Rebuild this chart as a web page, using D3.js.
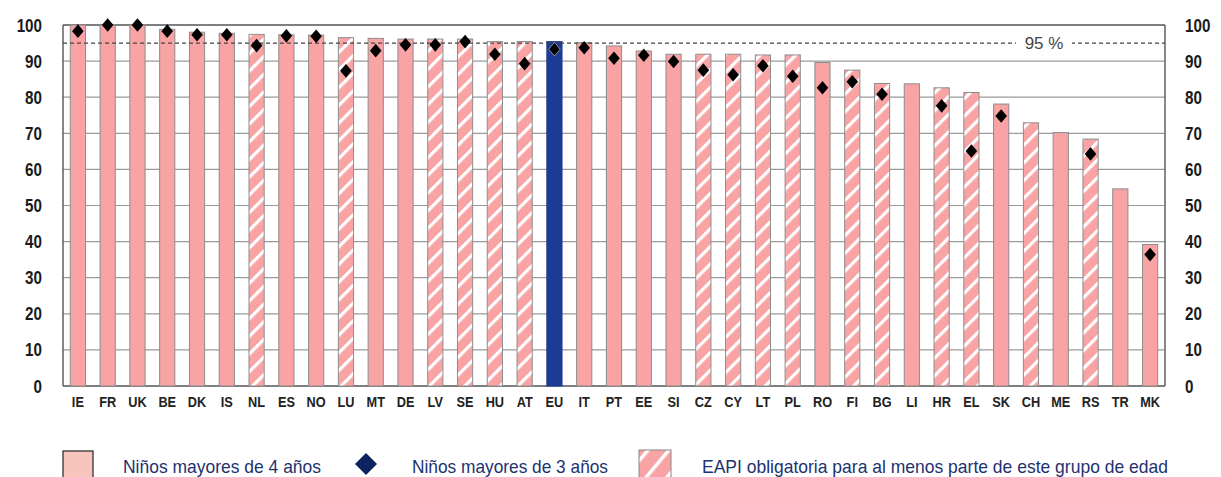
<!DOCTYPE html>
<html><head><meta charset="utf-8">
<script src="https://cdn.jsdelivr.net/npm/d3@7"></script>
<style>
html,body{margin:0;padding:0;background:#fff;}
svg{display:block;}
.nar{font-family:"Liberation Sans Narrow","Arial Narrow","Liberation Sans",Arial,sans-serif;}
</style></head>
<body>
<svg id="chart" width="1221" height="477"></svg>
<script>
const categories = ["IE","FR","UK","BE","DK","IS","NL","ES","NO","LU","MT","DE","LV","SE","HU","AT","EU","IT","PT","EE","SI","CZ","CY","LT","PL","RO","FI","BG","LI","HR","EL","SK","CH","ME","RS","TR","MK"];
const over4 = [100,100,100,98.8,98,97.7,97.4,97.3,97.2,96.5,96.3,96.1,96.1,96.1,95.4,95.4,95.4,95.1,94.2,92.8,91.9,91.9,91.9,91.7,91.7,89.6,87.5,83.8,83.7,82.6,81.3,78.1,72.9,70.2,68.4,54.6,39.2];
const over3 = [98.3,100,100,98.3,97.3,97.3,94.3,97,96.9,87.3,92.9,94.5,94.5,95.4,91.9,89.3,93.3,93.7,90.8,91.6,89.9,87.5,86.2,88.7,85.8,82.6,84.3,80.8,null,77.6,65.1,74.8,null,null,64.3,null,36.4];
const compulsory = ["NL","LU","LV","SE","HU","AT","CZ","CY","LT","PL","FI","BG","HR","EL","CH","RS"];
const yTicks = [0,10,20,30,40,50,60,70,80,90,100];
const targetValue = 95;
const targetLabel = "95 %";
const legendLabels = ["Niños mayores de 4 años","Niños mayores de 3 años","EAPI obligatoria para al menos parte de este grupo de edad"];

const svg = d3.select("#chart");
const L = 63, R = 1165, T = 25, B = 386;
const x = d3.scaleBand().domain(categories).range([L, R]).paddingInner(0.49).paddingOuter(0.245);
const y = d3.scaleLinear().domain([0, 100]).range([B, T]);

const PINK = "#f9a3a5", NAVY = "#1c3b95";

const defs = svg.append("defs");
const pat = defs.append("pattern").attr("id","hatch").attr("patternUnits","userSpaceOnUse")
  .attr("width",12.5).attr("height",12.5).attr("patternTransform","rotate(45)");
pat.append("rect").attr("width",12.5).attr("height",12.5).attr("fill",PINK);
pat.append("rect").attr("x",0).attr("width",3.2).attr("height",12.5).attr("fill","#fff");
const pat2 = defs.append("pattern").attr("id","hatchL").attr("patternUnits","userSpaceOnUse")
  .attr("width",16).attr("height",16).attr("patternTransform","rotate(40)");
pat2.append("rect").attr("width",16).attr("height",16).attr("fill",PINK);
pat2.append("rect").attr("x",0).attr("width",3.5).attr("height",16).attr("fill","#fff");

// grid
svg.append("g").selectAll("line").data(yTicks).join("line")
  .attr("x1",L).attr("x2",R).attr("y1",d=>y(d)).attr("y2",d=>y(d))
  .attr("stroke",d=>d===0||d===100?"#555":"#9a9a9a").attr("stroke-width",d=>d===0||d===100?1.4:1.2);
svg.append("line").attr("x1",L).attr("x2",L).attr("y1",T).attr("y2",B).attr("stroke","#555").attr("stroke-width",1.4);
svg.append("line").attr("x1",R).attr("x2",R).attr("y1",T).attr("y2",B).attr("stroke","#555").attr("stroke-width",1.4);

// bars
svg.append("g").selectAll("rect").data(categories).join("rect")
  .attr("x",d=>x(d)).attr("width",x.bandwidth())
  .attr("y",(d,i)=>y(over4[i])).attr("height",(d,i)=>y(0)-y(over4[i]))
  .attr("fill",d=>d==="EU"?NAVY:(compulsory.includes(d)?"url(#hatch)":PINK))
  .attr("stroke",d=>d==="EU"?"#233c8c":"#8c8c8c").attr("stroke-width",1);

// target line
svg.append("line").attr("x1",L).attr("x2",R).attr("y1",y(targetValue)).attr("y2",y(targetValue))
  .attr("stroke","#444").attr("stroke-width",1.3).attr("stroke-dasharray","4,3");
svg.append("rect").attr("x",1016).attr("y",y(targetValue)-10).attr("width",56).attr("height",20).attr("fill","#fff");
svg.append("text").attr("x",1044).attr("y",y(targetValue)+6).attr("text-anchor","middle")
  .attr("font-family","Liberation Sans, Arial, sans-serif").attr("font-size",17).attr("fill","#444").text(targetLabel);

// diamonds
const diam = (cx,cy,w,h)=>`M${cx},${cy-h}L${cx+w},${cy}L${cx},${cy+h}L${cx-w},${cy}Z`;
svg.append("g").selectAll("path").data(categories.map((c,i)=>({c,v:over3[i]})).filter(d=>d.v!=null)).join("path")
  .attr("d",d=>diam(x(d.c)+x.bandwidth()/2, y(d.v), 5.8, 6.8))
  .attr("fill","#000").attr("stroke",d=>d.c==="EU"?"#aab":"none").attr("stroke-width",0.8);

function squeeze(sel, k){
  sel.each(function(){
    const len = this.getComputedTextLength();
    d3.select(this).attr("textLength", len*k).attr("lengthAdjust","spacingAndGlyphs");
  });
}

// y axes
const axL = svg.append("g").attr("transform",`translate(${L},0)`)
  .call(d3.axisLeft(y).tickValues(yTicks).tickSize(0).tickPadding(21));
const axR = svg.append("g").attr("transform",`translate(${R},0)`)
  .call(d3.axisRight(y).tickValues(yTicks).tickSize(0).tickPadding(20));
[axL,axR].forEach(a=>{
  a.select(".domain").remove();
  a.selectAll("text").attr("class","nar").attr("font-size",19).attr("font-weight","bold").attr("fill","#1a1a1a");
  squeeze(a.selectAll("text"), 0.8);
});

// x axis
const axB = svg.append("g").attr("transform",`translate(0,${B})`)
  .call(d3.axisBottom(x).tickSize(0).tickPadding(10));
axB.select(".domain").remove();
axB.selectAll("text").attr("class","nar").attr("font-size",15).attr("font-weight","bold").attr("fill","#222");
squeeze(axB.selectAll("text"), 0.85);

// legend
const lg = svg.append("g");
lg.append("rect").attr("x",63).attr("y",451).attr("width",30).attr("height",30).attr("fill","#f8c4bc").attr("stroke","#333").attr("stroke-width",1.3);
lg.append("path").attr("d",diam(366,464,11,11)).attr("fill","#0c2360");
lg.append("rect").attr("x",639).attr("y",450).attr("width",32).attr("height",32).attr("fill","url(#hatchL)").attr("stroke","#888").attr("stroke-width",1);
const lx = [123,412,702], lw = [198,196,466];
legendLabels.forEach((t,i)=>{
  lg.append("text").attr("class","nar").attr("x",lx[i]).attr("y",472.5).attr("font-size",19)
    .attr("fill","#1d3270").attr("textLength",lw[i]).attr("lengthAdjust","spacingAndGlyphs").text(t);
});
</script>
</body></html>
